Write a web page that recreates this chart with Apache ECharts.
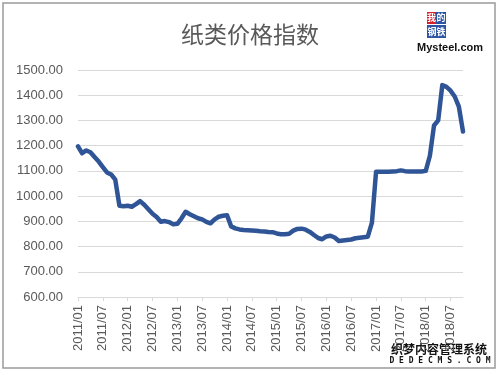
<!DOCTYPE html>
<html>
<head>
<meta charset="utf-8">
<script src="https://cdn.jsdelivr.net/npm/echarts@6/dist/echarts.min.js"></script>
<style>html,body{margin:0;padding:0;background:#fff;}#c{width:500px;height:375px;}</style>
</head>
<body>
<div id="c"></div>
<script>
// Monthly categories 2011/01 .. 2018/10
var categories = [];
for (var y = 2011; y <= 2018; y++) {
  for (var mo = 1; mo <= 12; mo++) {
    if (y === 2018 && mo > 10) break;
    categories.push(y + '/' + (mo < 10 ? '0' + mo : mo));
  }
}
var paperIndex = [
  1197,1170,1181,1174,1155,1137,1115,1094,1086,1065,962,960,
  962,958,968,980,966,948,930,917,898,901,897,888,
  890,912,938,928,920,912,908,898,892,908,918,922,
  924,880,872,868,866,865,864,863,861,860,858,857,
  852,849,849,851,863,870,871,867,858,846,834,829,
  840,843,836,822,824,826,828,833,835,837,839,895,
  1097,1097,1097,1097,1098,1099,1102,1099,1098,1098,1098,1098,
  1100,1160,1280,1300,1440,1433,1418,1395,1355,1256
];
var titleText = '纸类价格指数';
var yMin = 600, yMax = 1500, yStep = 100;

var chart = echarts.init(document.getElementById('c'), null, {renderer: 'canvas'});
chart.setOption({
  animation: false,
  backgroundColor: '#fff',
  title: {
    text: titleText, left: 'center', top: 18,
    textStyle: {fontFamily: 'Noto Sans CJK SC', fontSize: 23, fontWeight: 'normal', color: '#595959'}
  },
  grid: {left: 78, right: 37, top: 70, bottom: 78},
  xAxis: {
    type: 'category', data: categories, boundaryGap: false,
    axisLine: {lineStyle: {color: '#d9d9d9', width: 1}},
    axisTick: {show: true, interval: 5, length: 4, lineStyle: {color: '#d9d9d9'}},
    axisLabel: {interval: 5, rotate: 90, margin: 8, color: '#595959', fontSize: 13, fontFamily: 'Liberation Sans'}
  },
  yAxis: {
    type: 'value', min: yMin, max: yMax, interval: yStep,
    axisLine: {show: false}, axisTick: {show: false},
    splitLine: {lineStyle: {color: '#d9d9d9', width: 1}},
    axisLabel: {margin: 15, color: '#595959', fontSize: 13, fontFamily: 'Liberation Sans',
      formatter: function (v) { return v.toFixed(2); }}
  },
  series: [{
    type: 'line', data: paperIndex, showSymbol: false, symbol: 'none',
    lineStyle: {color: '#2F5597', width: 4.5, join: 'round', cap: 'round'}
  }],
  graphic: [
    {type: 'rect', shape: {x: 3, y: 3, width: 492, height: 365}, style: {fill: 'none', stroke: '#9a9a9a', lineWidth: 1.5}, silent: true},
    {type: 'rect', shape: {x: 427, y: 12, width: 9, height: 12}, style: {fill: '#d9202a'}},
    {type: 'text', style: {x: 431.5, y: 18, text: '我', fill: '#fff', font: 'bold 9px "Noto Sans CJK SC"', align: 'center', verticalAlign: 'middle'}},
    {type: 'rect', shape: {x: 436, y: 12, width: 10, height: 12}, style: {fill: '#2d54a3'}},
    {type: 'text', style: {x: 441, y: 18, text: '的', fill: '#fff', font: 'bold 9px "Noto Sans CJK SC"', align: 'center', verticalAlign: 'middle'}},
    {type: 'rect', shape: {x: 427, y: 25, width: 19, height: 13}, style: {fill: '#2d54a3'}},
    {type: 'text', style: {x: 436.5, y: 31.5, text: '钢铁', fill: '#fff', font: 'bold 9px "Noto Sans CJK SC"', align: 'center', verticalAlign: 'middle'}},
    {type: 'text', style: {x: 450, y: 48, text: 'Mysteel.com', fill: '#111', font: 'bold 11px "Liberation Sans"', align: 'center', verticalAlign: 'middle'}},
    {type: 'text', style: {x: 439, y: 349, text: '织梦内容管理系统', fill: '#111', stroke: '#fff', lineWidth: 2, font: 'bold 12px "Noto Sans CJK SC"', align: 'center', verticalAlign: 'middle'}},
    {type: 'text', style: {x: 440, y: 361, text: 'D E D E C M S . C O M', fill: '#111', stroke: '#fff', lineWidth: 2, font: 'bold 8px "DejaVu Sans Mono"', align: 'center', verticalAlign: 'middle'}}
  ]
});
</script>
</body>
</html>
